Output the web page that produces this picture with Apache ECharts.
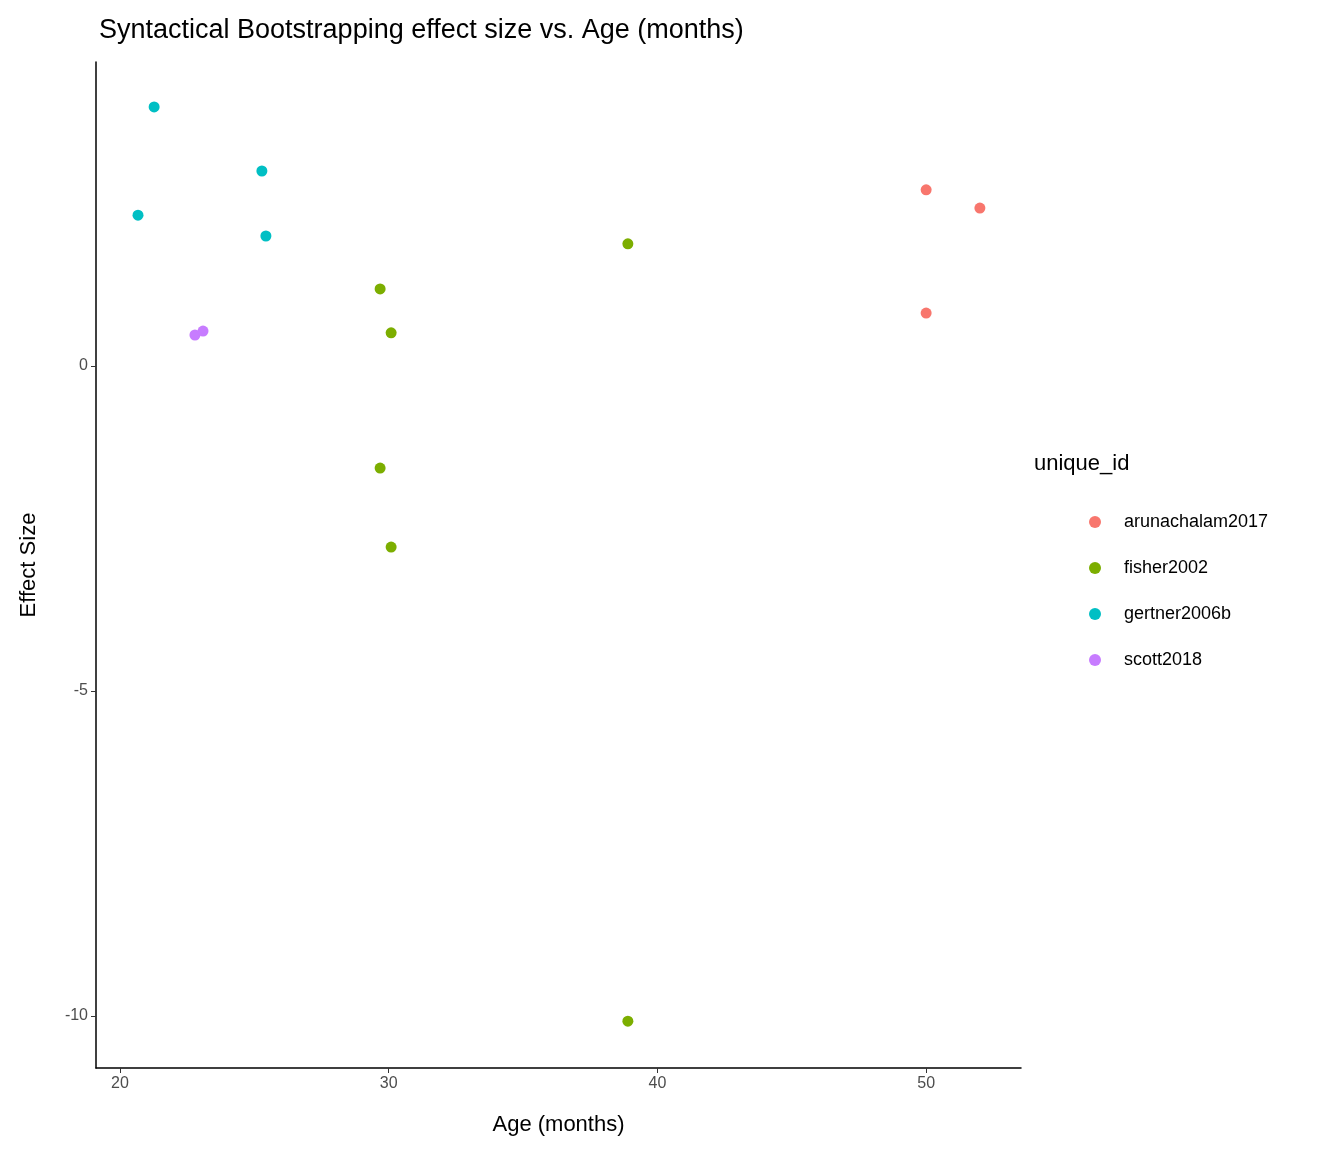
<!DOCTYPE html>
<html lang="en">
<head>
<meta charset="UTF-8">
<title>Syntactical Bootstrapping</title>
<script src="https://cdn.jsdelivr.net/npm/echarts@6/dist/echarts.min.js"></script>
<style>body{margin:0;background:#fff}#container{width:1344px;height:1152px}</style>
</head>
<body>
<div id="container"></div>
<script>
var groups = ['arunachalam2017', 'fisher2002', 'gertner2006b', 'scott2018'];
var colors = ['#F8766D', '#7CAE00', '#00BFC4', '#C77CFF'];
var arunachalam2017 = [[50, 2.71], [52.0, 2.43], [50, 0.815]];
var fisher2002 = [[38.9, 1.88], [29.68, 1.185], [30.09, 0.51], [29.68, -1.57], [30.09, -2.785], [38.9, -10.08]];
var gertner2006b = [[21.27, 3.985], [25.28, 3.0], [20.67, 2.32], [25.43, 2.0]];
var scott2018 = [[22.79, 0.477], [23.09, 0.538]];
var seriesData = [arunachalam2017, fisher2002, gertner2006b, scott2018];
var xTicks = [20, 30, 40, 50];
var yTicks = [-10, -5, 0];

var font = 'Liberation Sans, Arial, sans-serif';
var chart = echarts.init(document.getElementById('container'));
chart.setOption({
    animation: false,
    title: {text: 'Syntactical Bootstrapping effect size vs. Age (months)', left: 94, top: 12,
        textStyle: {fontFamily: font, fontSize: 27, fontWeight: 'normal', color: '#000'}},
    grid: {left: 96, right: 323, top: 62, bottom: 84},
    xAxis: {
        type: 'value', min: 19.107, max: 53.53,
        name: 'Age (months)', nameLocation: 'middle', nameGap: 46,
        nameTextStyle: {fontFamily: font, fontSize: 22, color: '#000'},
        axisLine: {onZero: false, lineStyle: {color: '#000', width: 1.5}},
        axisTick: {show: true, length: 5, lineStyle: {color: '#333'}, customValues: xTicks},
        axisLabel: {fontFamily: font, fontSize: 16, color: '#4d4d4d', margin: 8, customValues: xTicks},
        splitLine: {show: false}
    },
    yAxis: {
        type: 'value', min: -10.8, max: 4.677,
        name: 'Effect Size', nameLocation: 'middle', nameGap: 56,
        nameTextStyle: {fontFamily: font, fontSize: 22, color: '#000'},
        axisLine: {show: true, onZero: false, lineStyle: {color: '#000', width: 1.5}},
        axisTick: {show: true, length: 5, lineStyle: {color: '#333'}, customValues: yTicks},
        axisLabel: {fontFamily: font, fontSize: 16, color: '#4d4d4d', margin: 8, customValues: yTicks},
        splitLine: {show: false}
    },
    legend: {
        orient: 'vertical', left: 1084, top: 508, itemGap: 28, itemWidth: 12, itemHeight: 12,
        icon: 'circle', data: groups,
        textStyle: {fontFamily: font, fontSize: 18, color: '#000', padding: [0, 0, 0, 18]}
    },
    graphic: [{type: 'text', left: 1034, top: 453,
        style: {text: 'unique_id', font: '22px ' + font, fill: '#000'}}],
    series: groups.map(function (g, i) {
        return {name: g, type: 'scatter', data: seriesData[i], symbolSize: 11,
            itemStyle: {color: colors[i], opacity: 1}};
    })
});
</script>
</body>
</html>
